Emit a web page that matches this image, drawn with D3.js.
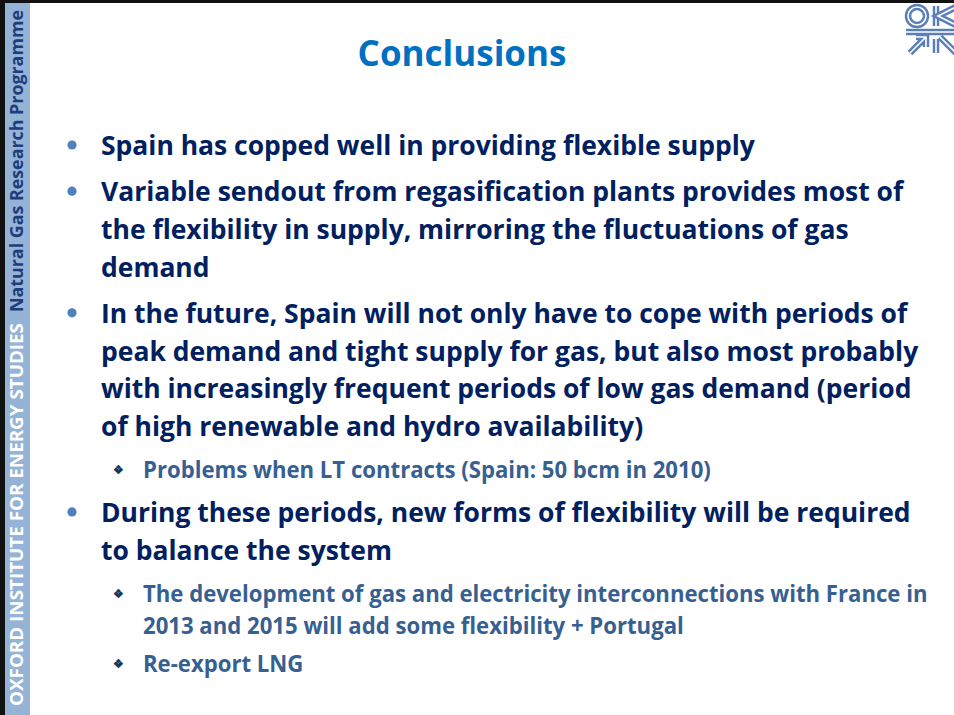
<!DOCTYPE html>
<html>
<head>
<meta charset="utf-8">
<script src="https://cdn.jsdelivr.net/npm/d3@7"></script>
<style>
  body { margin: 0; background: #fff; }
  svg text { font-family: "Open Sans", "Noto Sans", sans-serif; font-weight: 700; }
</style>
</head>
<body>
<div id="slide"></div>
<script>
// slide text, one entry per rendered line
const title = "Conclusions";
const sideTitle = "OXFORD INSTITUTE FOR ENERGY STUDIES";
const sideProgramme = "Natural Gas Research Programme";

// level 1 = big bullet, 2 = sub bullet
const bullets = [
  {level: 1, lines: ["Spain has copped well in providing flexible supply"]},
  {level: 1, lines: ["Variable sendout from regasification plants provides most of",
                     "the flexibility in supply, mirroring the fluctuations of gas",
                     "demand"]},
  {level: 1, lines: ["In the future, Spain will not only have to cope with periods of",
                     "peak demand and tight supply for gas, but also most probably",
                     "with increasingly frequent periods of low gas demand (period",
                     "of high renewable and hydro availability)"]},
  {level: 2, lines: ["Problems when LT contracts (Spain: 50 bcm in 2010)"]},
  {level: 1, lines: ["During these periods, new forms of flexibility will be required",
                     "to balance the system"]},
  {level: 2, lines: ["The development of gas and electricity interconnections with France in",
                     "2013 and 2015 will add some flexibility + Portugal"]},
  {level: 2, lines: ["Re-export LNG"]}
];

const width = 954, height = 715;
const squeeze = 0.963; // Calibri is a bit narrower than the fonts we have

const svg = d3.select("#slide").append("svg")
    .attr("width", width)
    .attr("height", height);

svg.append("rect").attr("width", width).attr("height", height).attr("fill", "#fff");

// frame + side band
svg.append("rect").attr("x", 0).attr("y", 0).attr("width", width).attr("height", 3).attr("fill", "#111");
svg.append("rect").attr("x", 0).attr("y", 0).attr("width", 5).attr("height", height).attr("fill", "#111");
svg.append("rect").attr("x", 5).attr("y", 3).attr("width", 25).attr("height", height - 3).attr("fill", "#95b3d7");

function squeezedText(g, x, y, str, size, color, anchor, sx) {
  return g.append("g")
      .attr("transform", "translate(" + x + "," + y + ") scale(" + (sx || squeeze) + ",1)")
    .append("text")
      .attr("font-size", size)
      .attr("fill", color)
      .attr("text-anchor", anchor || "start")
      .text(str);
}

// vertical side texts
let side = svg.append("g").attr("transform", "translate(23,706) rotate(-90)");
side.append("text")
    .attr("font-size", 17.5)
    .attr("fill", "#fff")
    .attr("textLength", 383)
    .attr("lengthAdjust", "spacingAndGlyphs")
    .text(sideTitle);
side.append("text")
    .attr("x", 394)
    .attr("font-size", 17.5)
    .attr("fill", "#1f3d7a")
    .attr("textLength", 302)
    .attr("lengthAdjust", "spacingAndGlyphs")
    .text(sideProgramme);

// title
squeezedText(svg, 462, 66, title, 35, "#0070c0", "middle", 1);

// logo, top right (cropped by slide edge)
let logo = svg.append("g").attr("transform", "translate(906,4)")
    .attr("fill", "none").attr("stroke-linecap", "butt");
function logoPath(d) {
  logo.append("path").attr("d", d).attr("stroke", "#5a7fb8").attr("stroke-width", 6.5);
  logo.append("path").attr("d", d).attr("stroke", "#fff").attr("stroke-width", 1.6);
}
logoPath("M20,12 a9,9 0 1,1 -18,0 a9,9 0 1,1 18,0");
logoPath("M30,2 L30,22");
logoPath("M52,2 L32,12 L52,22");
logoPath("M0,28 L50,28");
logoPath("M4,49 L20,33 M10,33 L20,33 L20,43");
logoPath("M30,49 L30,35 M34,33 L50,49");

// bullet text
const mainColor = "#002060", subColor = "#376092";
const lineGap = {1: 37.7, 2: 32};
// baseline advance when a new bullet starts, by previous and current level
const bulletStep = {"1-1": 46.2, "1-2": 42, "2-2": 38, "2-1": 44};
let y = 155, prev = null;
let body = svg.append("g");
bullets.forEach(function(b) {
  if (prev !== null) y += bulletStep[prev + "-" + b.level];
  let tx = b.level === 1 ? 101 : 143;
  let size = b.level === 1 ? 27.5 : 23;
  let color = b.level === 1 ? mainColor : subColor;
  if (b.level === 1) {
    body.append("circle").attr("cx", 72).attr("cy", y - 10).attr("r", 4.6).attr("fill", "#4f81bd");
  } else {
    body.append("text").attr("x", 118).attr("y", y - 4)
        .attr("font-family", "DejaVu Sans").attr("font-weight", 400).attr("font-size", 12)
        .attr("text-anchor", "middle").attr("fill", "#17375e").text("\u2756");
  }
  b.lines.forEach(function(line, j) {
    if (j > 0) y += lineGap[b.level];
    squeezedText(body, tx, y, line, size, color);
  });
  prev = b.level;
});
</script>
</body>
</html>
